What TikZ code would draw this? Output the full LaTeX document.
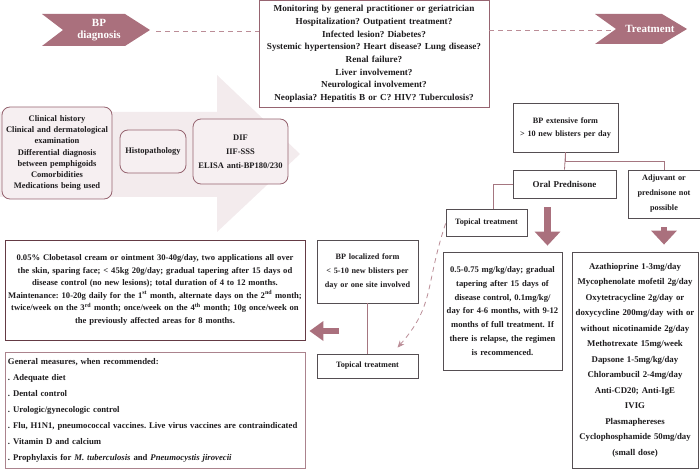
\documentclass[tikz,border=0pt]{standalone}
\usepackage{fontspec}
\setmainfont{Liberation Serif}
\usetikzlibrary{arrows,arrows.meta}
\usetikzlibrary{calc}
\definecolor{mauve}{RGB}{170,112,125}
\definecolor{linemauve}{RGB}{165,118,128}
\definecolor{boxmauve}{RGB}{150,100,112}
\definecolor{darkbox}{RGB}{85,78,82}
\definecolor{maroon}{RGB}{100,58,68}
\definecolor{txt}{RGB}{30,28,30}
\colorlet{pinkarrow}{mauve!14}
\colorlet{pinkfill}{mauve!11}
\colorlet{dashmauve}{mauve!80}
\frenchspacing

\begin{document}
\begin{tikzpicture}[x=1pt, y=-1pt, >=stealth, text=txt,
    chevtxt/.style={text=white, align=center, inner sep=0pt, font=\bfseries\fontsize{11}{12.5}\selectfont},
    qbox/.style={draw=boxmauve, thick, align=center, inner sep=0pt, font=\bfseries\fontsize{9.2}{12.7}\selectfont},
    rbox/.style={draw=boxmauve, thick, fill=pinkfill, rounded corners=8pt, align=center, inner sep=0pt},
    tbox/.style={draw=darkbox, thick, fill=white, align=center, inner xsep=1pt, inner ysep=2pt, font=\bfseries\fontsize{8.2}{13}\selectfont},
    link/.style={linemauve, thick},
    bigarr/.style={mauve, line width=6.5pt, -{Triangle[length=14pt,width=25pt]}},
    dashc/.style={dashmauve, thick, dash pattern=on 5pt off 4pt}]

    \useasboundingbox (0,0) rectangle (700,470);

    % background arrow of the diagnosis steps
    \fill[pinkarrow] (0,112) -- (217,112) -- (217,75) -- (300,154) -- (217,232) -- (217,197) -- (0,197) -- cycle;

    % chevrons
    \fill[mauve] (42,14) -- (125,14) -- (150,30) -- (125,46) -- (42,46) -- (63,30) -- cycle;
    \fill[mauve] (595,14) -- (662,14) -- (687,29) -- (662,44) -- (595,44) -- (616,29) -- cycle;
    \node[chevtxt] (diag) at (99,30) {BP\\diagnosis};
    \node[chevtxt] (treat) at (650,29) {Treatment};
    \coordinate (diagtip) at (150,31);
    \coordinate (treatin) at (614,30);

    \node[qbox, text width=230pt, minimum height=107pt] (quest) at (374,54) {Monitoring by general practitioner or geriatrician\\
        Hospitalization? Outpatient treatment?\\
        Infected lesion? Diabetes?\\
        Systemic hypertension? Heart disease? Lung disease?\\
        Renal failure?\\
        Liver involvement?\\
        Neurological involvement?\\
        Neoplasia? Hepatitis B or C? HIV? Tuberculosis?};

    \draw[dashc] (diagtip) ++(6,0) -- (diagtip -| quest.west);
    \draw[dashc] (quest.east |- treatin) -- (treatin);

    % diagnosis
    \node[rbox, text width=110pt, minimum height=92pt, font=\bfseries\fontsize{8.5}{11.2}\selectfont] (clin) at (57,153) {Clinical history\\
        Clinical and dermatological\\examination\\
        Differential diagnosis\\between pemphigoids\\
        Comorbidities\\
        Medications being used};
    \node[rbox, text width=66pt, minimum height=43pt, font=\bfseries\fontsize{8.5}{11}\selectfont] (histo) at (153,151.5) {Histopathology};
    \node[rbox, text width=95pt, minimum height=65pt, font=\bfseries\fontsize{8.5}{14}\selectfont] (dif) at (240.5,151.5) {DIF\\IIF-SSS\\ELISA anti-BP180/230};

    % extensive form
    \node[tbox, text width=103pt, minimum height=49pt] (ext) at (565.5,127.5) {BP extensive form\\> 10 new blisters per day};
    \node[tbox, text width=101pt, minimum height=28pt, font=\bfseries\fontsize{9}{13}\selectfont] (oral) at (564.5,184) {Oral Prednisone};
    \node[tbox, text width=70pt, minimum height=48pt, font=\bfseries\fontsize{8.2}{15}\selectfont] (adj) at (664,194) {Adjuvant or\\prednisone not\\possible};
    \node[tbox, text width=79pt, minimum height=27pt] (topu) at (486.5,222.5) {Topical treatment};
    \node[tbox, text width=117pt, minimum height=118pt, font=\bfseries\fontsize{8.6}{13.9}\selectfont] (pred) at (502.5,311) {0.5-0.75 mg/kg/day; gradual\\
        tapering after 15 days of\\
        disease control, 0.1mg/kg/\\
        day for 4-6 months, with 9-12\\
        months of full treatment. If\\
        there is relapse, the regimen\\
        is recommenced.};
    \node[tbox, text width=124pt, minimum height=216pt, font=\bfseries\fontsize{8.8}{15.5}\selectfont] (drug) at (635,360) {Azathioprine 1-3mg/day\\
        Mycophenolate mofetil 2g/day\\
        Oxytetracycline 2g/day or\\
        doxycycline 200mg/day with or\\
        without nicotinamide 2g/day\\
        Methotrexate 15mg/week\\
        Dapsone 1-5mg/kg/day\\
        Chlorambucil 2-4mg/day\\
        Anti-CD20; Anti-IgE\\
        IVIG\\
        Plasmaphereses\\
        Cyclophosphamide 50mg/day\\
        (small dose)};

    \draw[link] (ext.south) -- (oral.north);
    \draw[link] (ext.south) -- ++(0,9) -| (adj.north);
    \draw[link] (oral.west) -| ([xshift=6.5pt]topu.north);
    \draw[bigarr] ([xshift=-17pt]oral.south) ++(0,9) -- ([xshift=-17pt,yshift=6pt]oral.south |- pred.north);
    \draw[bigarr] (adj.south) ++(0,9) -- ([yshift=7pt]adj.south |- drug.north);

    % localized form
    \node[tbox, text width=99pt, minimum height=63pt, font=\bfseries\fontsize{8.2}{14}\selectfont] (loc) at (367.5,271.5) {BP localized form\\
        < 5-10 new blisters per\\
        day or one site involved};
    \node[tbox, text width=99pt, minimum height=24pt] (topl) at (367.5,366) {Topical treatment};
    \draw[link] (loc.south) -- (topl.north);
    \draw[dashc, -{Stealth[length=7pt,width=6pt]}] ([yshift=-1pt]topu.west) .. controls (425,285) and (435,305) .. ([xshift=30pt,yshift=6pt]topl.north);

    \node[draw=maroon, thick, align=center, inner sep=0pt, text width=300pt, minimum height=100pt, font=\bfseries\fontsize{8.6}{12.6}\selectfont] (clob) at (155,290) {0.05\% Clobetasol cream or ointment 30-40g/day, two applications all over\\
        the skin, sparing face; < 45kg 20g/day; gradual tapering after 15 days od\\
        disease control (no new lesions); total duration of 4 to 12 months.\\
        Maintenance: 10-20g daily for the 1\textsuperscript{st} month, alternate days on the 2\textsuperscript{nd} month;\\
        twice/week on the 3\textsuperscript{rd} month; once/week on the 4\textsuperscript{th} month; 10g once/week on\\
        the previously affected areas for 8 months.};
    \coordinate (la) at (339,331);
    \draw[mauve, line width=6pt, -{Triangle[length=14pt,width=19pt]}] (la) -- ([xshift=4pt]la -| clob.east);

    \node[draw=boxmauve!80, thick, align=left, inner xsep=3pt, inner ysep=2pt, text width=294pt, minimum height=116pt, font=\bfseries\fontsize{8.7}{16}\selectfont] (gen) at (155,410) {General measures, when recommended:\\
        . Adequate diet\\
        . Dental control\\
        . Urologic/gynecologic control\\
        . Flu, H1N1, pneumococcal vaccines. Live virus vaccines are contraindicated\\
        . Vitamin D and calcium\\
        . Prophylaxis for \textit{M. tuberculosis} and \textit{Pneumocystis jirovecii}};

\end{tikzpicture}
\end{document}
